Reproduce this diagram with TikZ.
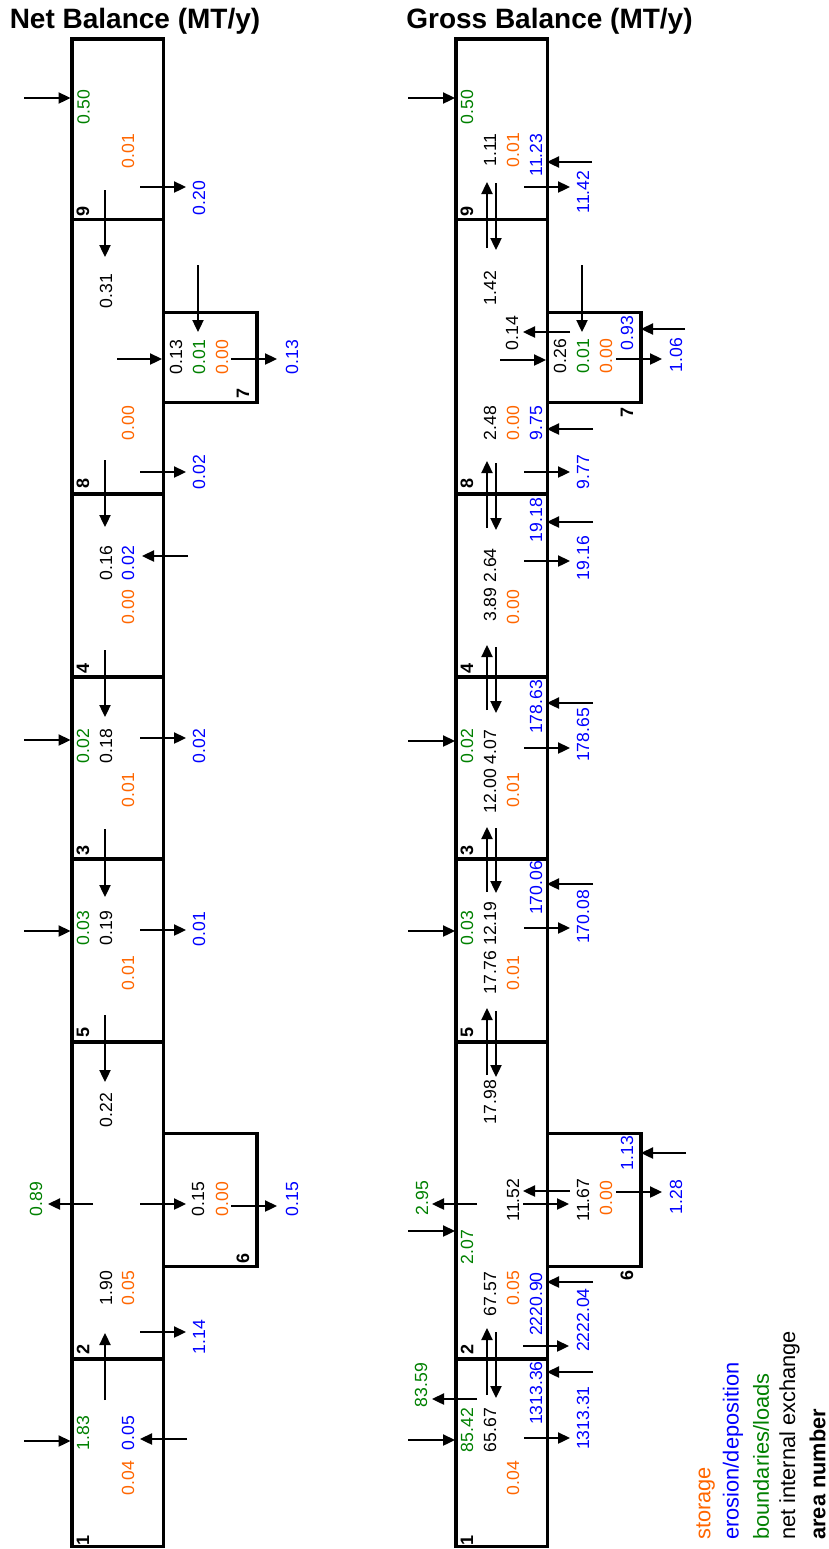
\documentclass[tikz,border=0pt]{standalone}
\usepackage{fontspec}
\setmainfont{Liberation Sans}
\usetikzlibrary{arrows.meta}
\definecolor{cgreen}{RGB}{0,128,0}
\definecolor{corange}{RGB}{255,102,0}
\definecolor{cblue}{RGB}{0,0,255}
\newcommand\drawboxes{%
  \draw[boxline] (72,39) rectangle (163.5,1546.5);
  \foreach \yy in {219.5,494,677,859,1042,1359}
    \draw[boxline] (72,\yy) -- (163.5,\yy);
  \draw[boxline] (163.5,312.5) -- (257,312.5) -- (257,402.5) -- (163.5,402.5);
  \draw[boxline] (163.5,1133.5) -- (257,1133.5) -- (257,1266.5) -- (163.5,1266.5);
}
\begin{document}
\begin{tikzpicture}[x=0.5pt,y=-0.5pt,
  boxline/.style={line width=1.7pt},
  flux/.style={line width=0.8pt,-{Triangle[length=6pt,width=5.6pt]}},
  vt/.style={rotate=90,inner sep=0pt,font=\fontsize{8.8}{10}\selectfont},
  ng/.style={vt,text=cgreen},
  no/.style={vt,text=corange},
  nb/.style={vt,text=cblue},
  nk/.style={vt,text=black},
  area/.style={rotate=90,inner sep=0pt,font=\fontsize{9}{10}\selectfont\bfseries},
  ttl/.style={anchor=base,inner sep=0pt,font=\fontsize{14}{16}\selectfont\bfseries},
  leg/.style={rotate=90,anchor=west,inner sep=0pt,font=\fontsize{10.9}{12}\selectfont}
]
\useasboundingbox (0,0) rectangle (829,1549);

% titles
\node[ttl] (tL) at (135,28) {Net Balance (MT/y)};
\node[ttl] (tR) at (549.5,28) {Gross Balance (MT/y)};

% boxes
\drawboxes
\begin{scope}[xshift=192pt]
\drawboxes
\end{scope}

% ================= NET BALANCE =================
% area 9
\draw[flux] (24,98) -- (70.5,98);
\node[ng] (L9g) at (83.5,107) {0.50};
\node[no] (L9o) at (128,151) {0.01};
\draw[flux] (140,187) -- (186,187);
\node[nb] (L9b) at (199,198) {0.20};
\node[area] (L9n) at (83,211) {9};
\draw[flux] (105,190) -- (105,257);
% area 8
\node[nk] (L98) at (106,291) {0.31};
\draw[flux] (198,265) -- (198,332);
\draw[flux] (117,359) -- (162,359);
\node[nk] (L7k) at (176,357) {0.13};
\node[ng] (L7g) at (199,357) {0.01};
\node[no] (L7o) at (222,357) {0.00};
\draw[flux] (231,359) -- (277,359);
\node[nb] (L7b) at (292,357) {0.13};
\node[area] (L7n) at (243,393) {7};
\node[no] (L8o) at (128,423) {0.00};
\draw[flux] (140,472) -- (186,472);
\node[nb] (L8b) at (199,472) {0.02};
\node[area] (L8n) at (83,483) {8};
\draw[flux] (105,460) -- (105,527);
% area 4
\node[nk] (L84) at (106,563) {0.16};
\node[nb] (L4b) at (128,563) {0.02};
\draw[flux] (188,556) -- (142,556);
\node[no] (L4o) at (128,607) {0.00};
\node[area] (L4n) at (83,668) {4};
\draw[flux] (105,650) -- (105,717);
% area 3
\draw[flux] (24,740) -- (70.5,740);
\node[ng] (L3g) at (83,746) {0.02};
\node[nk] (L43) at (106,746) {0.18};
\draw[flux] (140,738) -- (186,738);
\node[nb] (L3b) at (199,746) {0.02};
\node[no] (L3o) at (128,790) {0.01};
\node[area] (L3n) at (83,850) {3};
\draw[flux] (105,829) -- (105,897);
% area 5
\draw[flux] (24,931) -- (70.5,931);
\node[ng] (L5g) at (83,928) {0.03};
\node[nk] (L35) at (106,928) {0.19};
\draw[flux] (140,930) -- (186,930);
\node[nb] (L5b) at (199,929) {0.01};
\node[no] (L5o) at (128,973) {0.01};
\node[area] (L5n) at (83,1032) {5};
\draw[flux] (105,1015) -- (105,1082);
% area 2
\node[nk] (L52) at (106,1110) {0.22};
\draw[flux] (93,1204) -- (48,1204);
\node[ng] (L2g) at (36,1199) {0.89};
\draw[flux] (140,1204) -- (186,1204);
\node[nk] (L26) at (198,1199) {0.15};
\node[no] (L6o) at (222,1199) {0.00};
\draw[flux] (231,1206) -- (277,1206);
\node[nb] (L6b) at (292,1199) {0.15};
\node[area] (L6n) at (243,1258) {6};
\node[nk] (L12) at (106,1288) {1.90};
\node[no] (L2o) at (128,1288) {0.05};
\draw[flux] (140,1332) -- (186,1332);
\node[nb] (L2b) at (199,1337) {1.14};
\node[area] (L2n) at (83,1349) {2};
\draw[flux] (105,1400) -- (105,1333);
% area 1
\draw[flux] (24,1441) -- (70.5,1441);
\node[ng] (L1g) at (83,1433) {1.83};
\node[nb] (L1b) at (128,1433) {0.05};
\draw[flux] (187,1439) -- (140,1439);
\node[no] (L1o) at (128,1478) {0.04};
\node[area] (L1n) at (83,1540) {1};

% ================= GROSS BALANCE =================
% area 9
\draw[flux] (408,98) -- (455,98);
\node[ng] (R9g) at (467,107) {0.50};
\node[nk] (R9k) at (490,150) {1.11};
\node[no] (R9o) at (513,150) {0.01};
\node[nb] (R9b) at (536,155) {11.23};
\draw[flux] (592,162) -- (547,162);
\draw[flux] (524,187) -- (570,187);
\node[nb] (R9e) at (583,192) {11.42};
\node[area] (R9n) at (467,211) {9};
\draw[flux] (487,248) -- (487,182);
\draw[flux] (496,183) -- (496,250);
% area 8 / 7
\node[nk] (R98) at (490,288) {1.42};
\draw[flux] (582,265) -- (582,332);
\draw[flux] (570,332) -- (523,332);
\node[nk] (R78) at (512,333) {0.14};
\draw[flux] (500,360) -- (546,360);
\node[nk] (R7k) at (560,356) {0.26};
\node[ng] (R7g) at (583,356) {0.01};
\node[no] (R7o) at (606,356) {0.00};
\node[nb] (R7b) at (627,333) {0.93};
\draw[flux] (685,329) -- (641,329);
\draw[flux] (616,359) -- (662,359);
\node[nb] (R7e) at (676,355) {1.06};
\node[area] (R7n) at (627,412) {7};
\node[nk] (R8k) at (490,423) {2.48};
\node[no] (R8o) at (513,423) {0.00};
\node[nb] (R8b) at (536,423) {9.75};
\draw[flux] (593,429) -- (547,429);
\draw[flux] (524,472) -- (570,472);
\node[nb] (R8e) at (583,472) {9.77};
\node[area] (R8n) at (467,483) {8};
\draw[flux] (487,528) -- (487,461);
\draw[flux] (496,463) -- (496,530);
% area 4
\node[nb] (R4b) at (536,520) {19.18};
\draw[flux] (593,522) -- (547,522);
\node[nk] (R4k) at (490,585) {3.89 2.64};
\node[no] (R4o) at (513,607) {0.00};
\draw[flux] (524,561) -- (570,561);
\node[nb] (R4e) at (583,558) {19.16};
\node[area] (R4n) at (467,668) {4};
\draw[flux] (487,710) -- (487,645);
\draw[flux] (496,647) -- (496,713);
% area 3
\node[nb] (R3b) at (536,707) {178.63};
\draw[flux] (593,703) -- (547,703);
\draw[flux] (408,741) -- (455,741);
\node[ng] (R3g) at (467,746) {0.02};
\node[nk] (R3k) at (490,771.5) {12.00 4.07};
\draw[flux] (524,748) -- (570,748);
\node[nb] (R3e) at (583,735) {178.65};
\node[no] (R3o) at (513,790) {0.01};
\node[area] (R3n) at (467,850) {3};
\draw[flux] (487,892) -- (487,827);
\draw[flux] (496,828) -- (496,893);
% area 5
\node[nb] (R5b) at (536,888) {170.06};
\draw[flux] (593,884) -- (547,884);
\draw[flux] (408,931) -- (455,931);
\node[ng] (R5g) at (467,928) {0.03};
\node[nk] (R5k) at (490,948) {17.76 12.19};
\draw[flux] (524,928) -- (570,928);
\node[nb] (R5e) at (583,917) {170.08};
\node[no] (R5o) at (513,973) {0.01};
\node[area] (R5n) at (467,1032) {5};
\draw[flux] (487,1075) -- (487,1008);
\draw[flux] (496,1011) -- (496,1077);
% area 2 / 6
\node[nk] (R52) at (490,1102) {17.98};
\node[nb] (R6b) at (627,1153) {1.13};
\draw[flux] (686,1153) -- (641,1153);
\draw[flux] (570,1191) -- (523,1191);
\node[nk] (R62) at (513,1200) {11.52};
\draw[flux] (523,1204) -- (569,1204);
\node[nk] (R26) at (583,1200) {11.67};
\node[no] (R6o) at (606,1198) {0.00};
\draw[flux] (616,1192) -- (662,1192);
\node[nb] (R6e) at (676,1197) {1.28};
\draw[flux] (477,1204) -- (432,1204);
\node[ng] (R2x) at (422,1198) {2.95};
\draw[flux] (408,1231) -- (455,1231);
\node[ng] (R2g) at (467,1247) {2.07};
\node[area] (R6n) at (627,1275) {6};
\node[nk] (R2k) at (490,1294) {67.57};
\node[no] (R2o) at (513,1288) {0.05};
\node[nb] (R2b) at (536,1304) {2220.90};
\draw[flux] (593,1282) -- (547,1282);
\draw[flux] (523,1346) -- (569,1346);
\node[nb] (R2e) at (583,1320) {2222.04};
\node[area] (R2n) at (467,1349) {2};
\draw[flux] (487,1395) -- (487,1328);
\draw[flux] (496,1332) -- (496,1398);
% area 1
\node[nb] (R1b) at (536,1393) {1313.36};
\draw[flux] (593,1372) -- (547,1372);
\draw[flux] (477,1399) -- (432,1399);
\node[ng] (R1x) at (421,1385) {83.59};
\draw[flux] (408,1440) -- (455,1440);
\node[ng] (R1g) at (467,1430) {85.42};
\node[nk] (R1k) at (490,1430) {65.67};
\draw[flux] (524,1438) -- (570,1438);
\node[nb] (R1e) at (583,1418) {1313.31};
\node[no] (R1o) at (513,1478) {0.04};
\node[area] (R1n) at (467,1540) {1};

% legend
\node[leg,text=corange] (lg1) at (705.5,1540) {storage};
\node[leg,text=cblue] (lg2) at (733,1540) {erosion/deposition};
\node[leg,text=cgreen] (lg3) at (761,1540) {boundaries/loads};
\node[leg] (lg4) at (789.5,1540) {net internal exchange};
\node[leg,font=\fontsize{10.9}{12}\selectfont\bfseries] (lg5) at (817.5,1540) {area number};
\end{tikzpicture}
\end{document}
